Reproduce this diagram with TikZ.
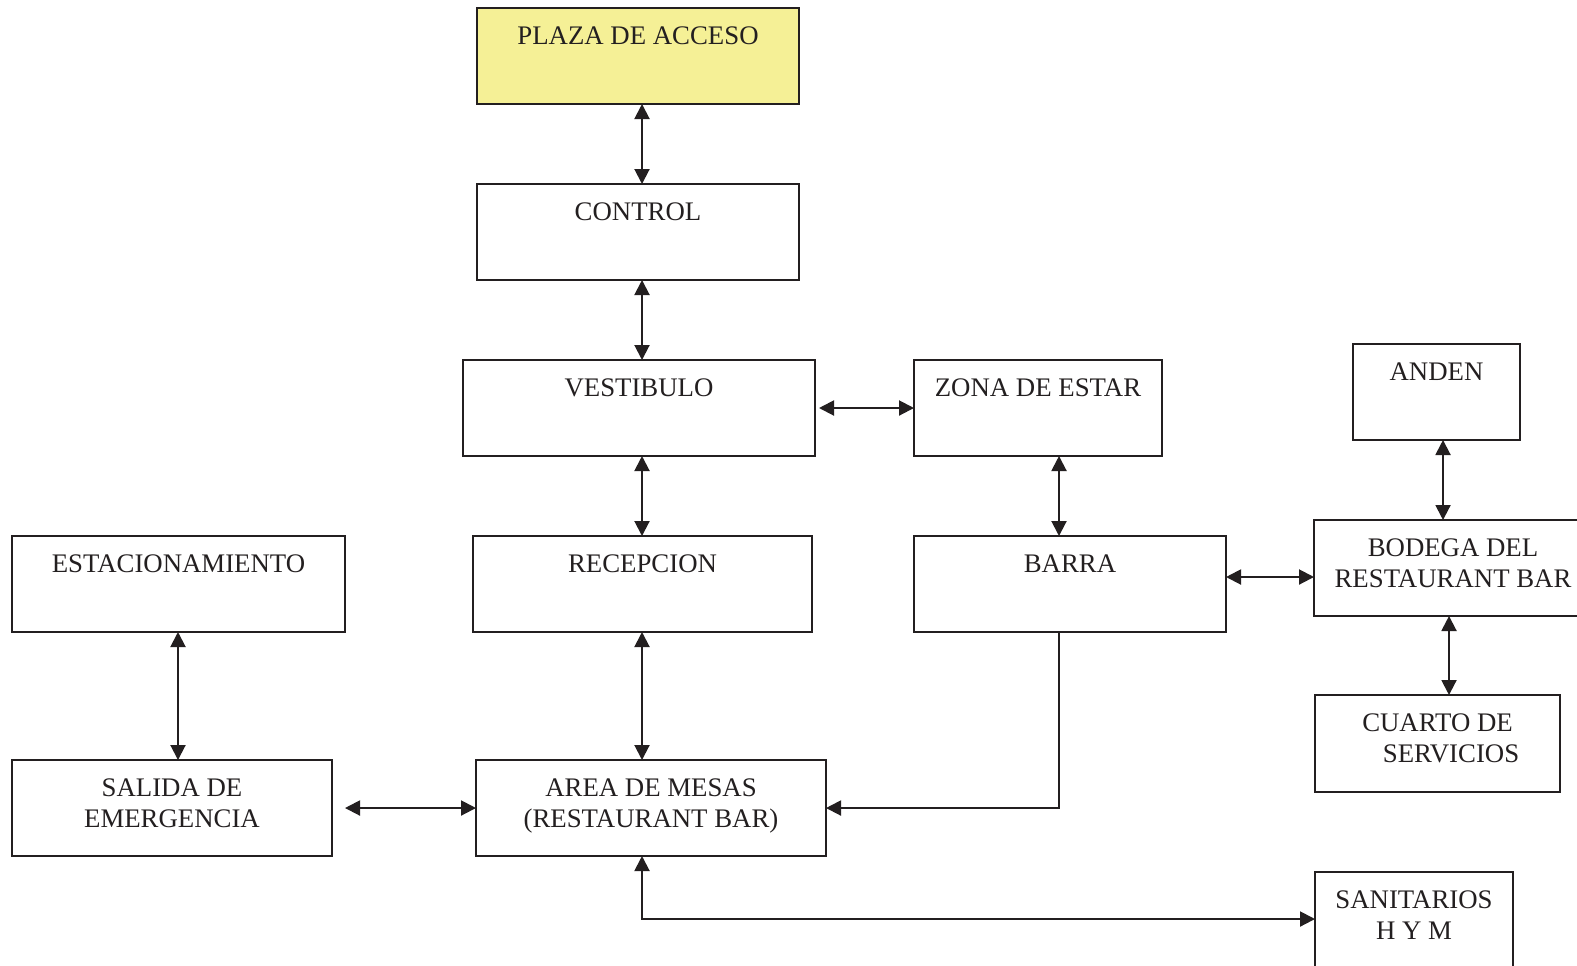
\documentclass[tikz,border=0pt]{standalone}
\usepackage{fontspec}
\setmainfont{Liberation Serif}
\usetikzlibrary{arrows.meta}
\definecolor{ink}{HTML}{231F20}
\definecolor{plazafill}{HTML}{F5F096}
% [fill]{name}{x}{y}{w}{h}{text}   (pixel units, 1px = 0.5pt)
\newcommand\mkbox[7][white]{%
  \node[boxst, fill=#1, anchor=north west] (#2) at (#3,#4)
    {\parbox[t][\dimexpr #6pt/2\relax][t]{\dimexpr #5pt/2\relax}{\centering\rule{0pt}{18.25pt}#7}};}
\begin{document}
\begin{tikzpicture}[x=0.5pt,y=-0.5pt,
  boxst/.style={draw=ink, line width=1pt, inner sep=0pt, outer sep=0pt,
    font=\fontsize{13.4}{15.5}\selectfont, text=ink},
  conn/.style={draw=ink, line width=1pt},
  tipst/.tip={Triangle[width=7.5pt,length=7.5pt]},
  dbl/.style={conn, tipst-tipst},
  sgl/.style={conn, -tipst}]
\useasboundingbox (0,0) rectangle (1577,965);
\fill[white] (0,0) rectangle (1577,965);

\mkbox[plazafill]{plaza}{477}{8}{322}{96}{PLAZA DE ACCESO}
\mkbox{control}{477}{184}{322}{96}{CONTROL}
\mkbox{vest}{463}{360}{352}{96}{VESTIBULO}
\mkbox{zona}{914}{360}{248}{96}{ZONA DE ESTAR}
\mkbox{anden}{1353}{344}{167}{96}{ANDEN}
\mkbox{estac}{12}{536}{333}{96}{ESTACIONAMIENTO}
\mkbox{recep}{473}{536}{339}{96}{RECEPCION}
\mkbox{barra}{914}{536}{312}{96}{BARRA}
\mkbox{bodega}{1314}{520}{278}{96}{BODEGA DEL\\RESTAURANT BAR}
\mkbox{cuarto}{1315}{695}{245}{97}{CUARTO DE\\\hspace*{13.5pt}SERVICIOS}
\mkbox{salida}{12}{760}{320}{96}{SALIDA DE\\EMERGENCIA}
\mkbox{area}{476}{760}{350}{96}{AREA DE MESAS\\(RESTAURANT BAR)}
\mkbox{sanit}{1315}{872}{198}{103}{SANITARIOS\\H Y M}

\coordinate (cA) at (642,0);
\coordinate (cZ) at (1059,0);
\coordinate (cB) at (1443,0);
\coordinate (cC) at (1449,0);
\coordinate (cE) at (178,0);
\coordinate (rB) at (0,577);
\coordinate (rH) at (0,919);

\draw[dbl] (plaza.south -| cA) -- (control.north -| cA);
\draw[dbl] (control.south -| cA) -- (vest.north -| cA);
\draw[dbl] (vest.south -| cA) -- (recep.north -| cA);
\draw[dbl] (recep.south -| cA) -- (area.north -| cA);
\draw[dbl] ([xshift=2pt]vest.east) -- (zona.west);
\draw[dbl] (zona.south -| cZ) -- (barra.north -| cZ);
\draw[dbl] (barra.east |- rB) -- (bodega.west |- rB);
\draw[dbl] (anden.south -| cB) -- (bodega.north -| cB);
\draw[dbl] (bodega.south -| cC) -- (cuarto.north -| cC);
\draw[dbl] (estac.south -| cE) -- (salida.north -| cE);
\draw[dbl] ([xshift=6.5pt]salida.east) -- (area.west);
\draw[sgl] (barra.south -| cZ) |- (area.east);
\draw[dbl] (area.south -| cA) |- (sanit.west |- rH);
\end{tikzpicture}
\end{document}
